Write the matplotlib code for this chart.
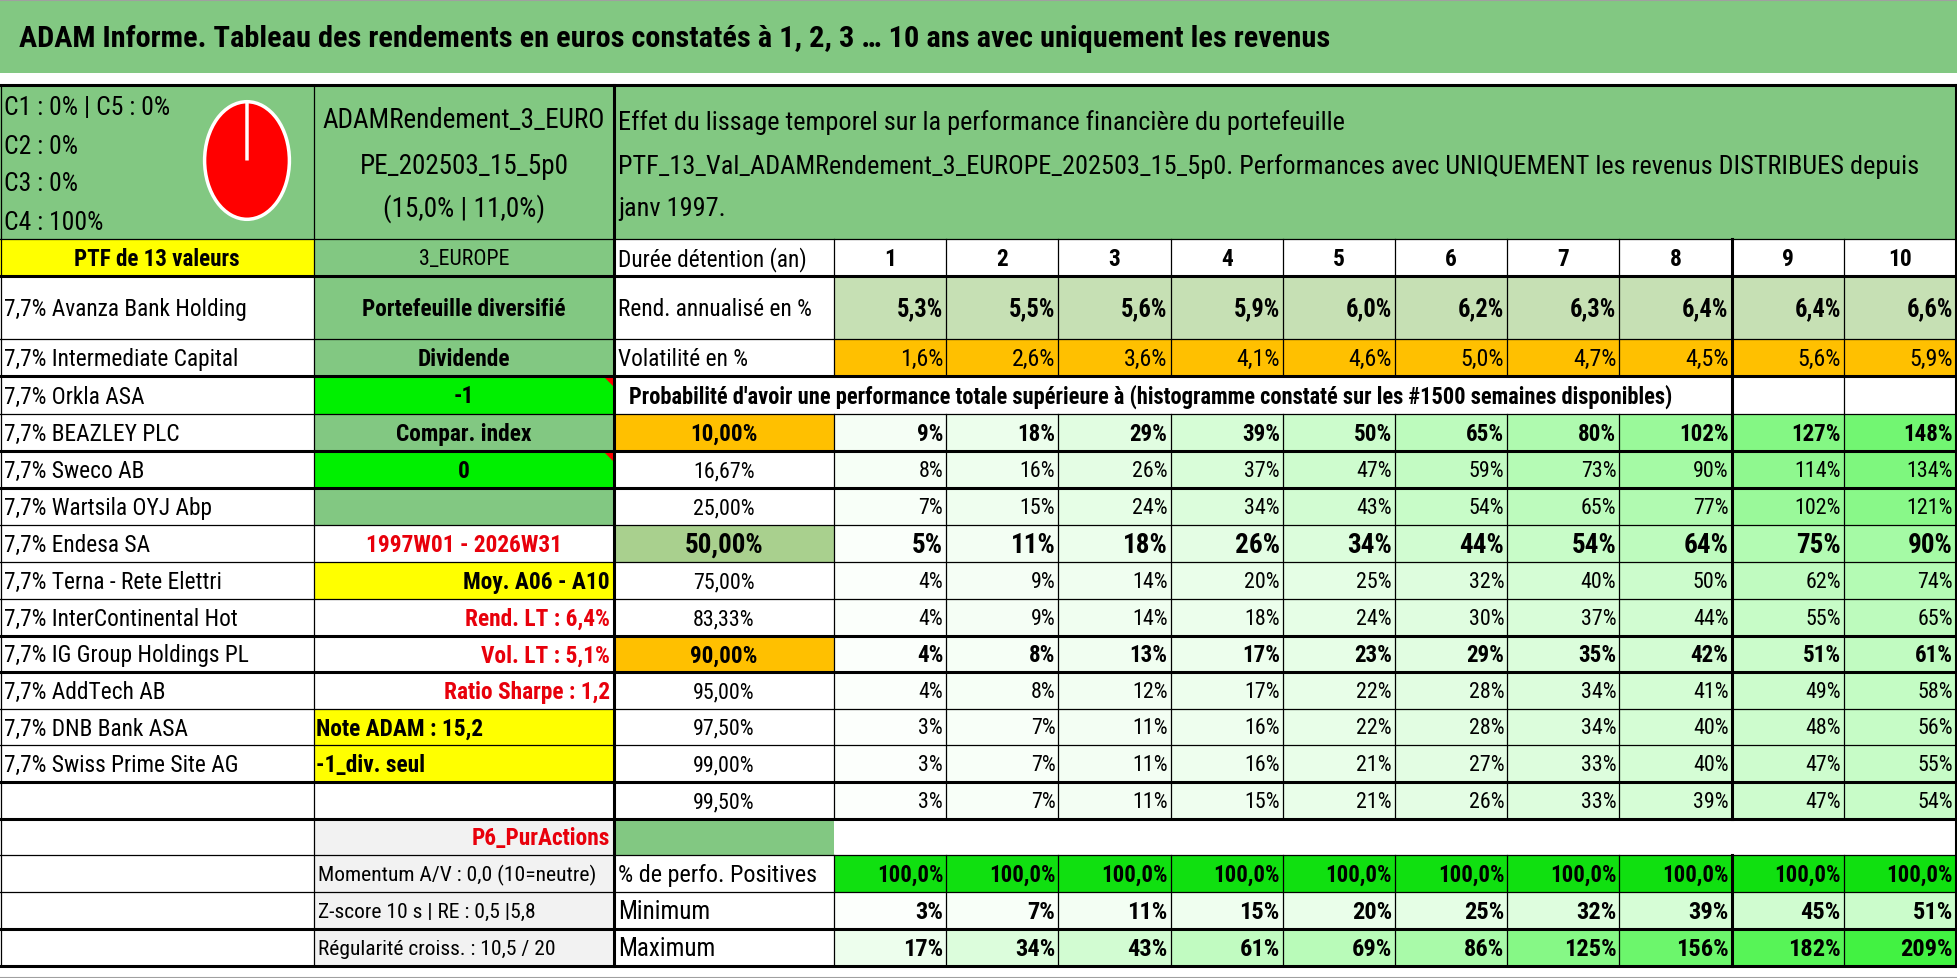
import matplotlib
matplotlib.use("Agg")
import matplotlib.pyplot as plt
from matplotlib.patches import Rectangle, Polygon
from matplotlib import font_manager as fm

# ---------------- data ----------------
title = "ADAM Informe. Tableau des rendements en euros constatés à 1, 2, 3 … 10 ans avec uniquement les revenus"
pie_labels = ["C1", "C2", "C3", "C4", "C5"]
pie_values = [0, 0, 0, 100, 0]
pie_text = ["C1 : 0% | C5 : 0%", "C2 : 0%", "C3 : 0%", "C4 : 100%"]
header_b = ["ADAMRendement_3_EURO", "PE_202503_15_5p0", "(15,0% | 11,0%)"]
header_c = ["Effet du lissage temporel sur la performance financière du portefeuille",
            "PTF_13_Val_ADAMRendement_3_EUROPE_202503_15_5p0. Performances avec UNIQUEMENT les revenus DISTRIBUES depuis",
            "janv 1997."]
stocks = ["7,7% Avanza Bank Holding", "7,7% Intermediate Capital", "7,7% Orkla ASA", "7,7% BEAZLEY PLC",
          "7,7% Sweco AB", "7,7% Wartsila OYJ Abp", "7,7% Endesa SA", "7,7% Terna - Rete Elettri",
          "7,7% InterContinental Hot", "7,7% IG Group Holdings PL", "7,7% AddTech AB", "7,7% DNB Bank ASA",
          "7,7% Swiss Prime Site AG"]
years = [1, 2, 3, 4, 5, 6, 7, 8, 9, 10]
rend = [5.3, 5.5, 5.6, 5.9, 6.0, 6.2, 6.3, 6.4, 6.4, 6.6]
vol = [1.6, 2.6, 3.6, 4.1, 4.6, 5.0, 4.7, 4.5, 5.6, 5.9]
pct_labels = ["10,00%", "16,67%", "25,00%", "50,00%", "75,00%", "83,33%", "90,00%", "95,00%", "97,50%", "99,00%", "99,50%"]
pct_table = [
    [9, 18, 29, 39, 50, 65, 80, 102, 127, 148],
    [8, 16, 26, 37, 47, 59, 73, 90, 114, 134],
    [7, 15, 24, 34, 43, 54, 65, 77, 102, 121],
    [5, 11, 18, 26, 34, 44, 54, 64, 75, 90],
    [4, 9, 14, 20, 25, 32, 40, 50, 62, 74],
    [4, 9, 14, 18, 24, 30, 37, 44, 55, 65],
    [4, 8, 13, 17, 23, 29, 35, 42, 51, 61],
    [4, 8, 12, 17, 22, 28, 34, 41, 49, 58],
    [3, 7, 11, 16, 22, 28, 34, 40, 48, 56],
    [3, 7, 11, 16, 21, 27, 33, 40, 47, 55],
    [3, 7, 11, 15, 21, 26, 33, 39, 47, 54],
]
positives = [100.0] * 10
minimum = [3, 7, 11, 15, 20, 25, 32, 39, 45, 51]
maximum = [17, 34, 43, 61, 69, 86, 125, 156, 182, 209]
colB = ["3_EUROPE", "Portefeuille diversifié", "Dividende", "-1", "Compar. index", "0", "",
        "1997W01 - 2026W31", "Moy. A06 - A10", "Rend. LT : 6,4%", "Vol. LT : 5,1%", "Ratio Sharpe : 1,2",
        "Note ADAM : 15,2", "-1_div. seul", "", "P6_PurActions",
        "Momentum A/V : 0,0 (10=neutre)", "Z-score 10 s | RE : 0,5 |5,8", "Régularité croiss. : 10,5 / 20"]
prob_text = "Probabilité d'avoir une performance totale supérieure à (histogramme constaté sur les #1500 semaines disponibles)"

# ---------------- fonts ----------------
names = {f.name for f in fm.fontManager.ttflist}
FONT = None
STRETCH = "normal"
for cand in ["Liberation Sans Narrow", "Roboto Condensed", "Open Sans Condensed", "Carlito"]:
    if cand in names:
        FONT = cand
        break
if FONT is None:
    if any(f.name == "DejaVu Sans" and f.stretch == "condensed" for f in fm.fontManager.ttflist):
        FONT, STRETCH = "DejaVu Sans", "condensed"
    else:
        FONT = "Liberation Sans"
plt.rcParams["font.family"] = [FONT, "DejaVu Sans"]
plt.rcParams["font.stretch"] = STRETCH

# ---------------- layout ----------------
W, H = 1958, 979
fig = plt.figure(figsize=(W / 100, H / 100), dpi=100)
ax = fig.add_axes([0, 0, 1, 1])
ax.set_xlim(0, W)
ax.set_ylim(H, 0)
ax.axis("off")
renderer = fig.canvas.get_renderer()


def fit(s, target, bold=False, base=20.0, k=1.0):
    t = ax.text(0, 0, s, fontsize=base, fontweight="bold" if bold else "normal")
    w = t.get_window_extent(renderer).width
    t.remove()
    return base * target / w * k


BUMP = 1.06  # short cell texts a little taller (reference font is narrower)
FS = 0.5 * (fit("7,7% IG Group Holdings PL", 212, k=BUMP) + fit("Durée détention (an)", 192, k=BUMP))
FS_C = FS
FS_TITLE = fit("ADAM Informe. Tableau des rendements en euros co", 641, bold=True)
FS_HB = fit(header_b[0], 283)
FS_HC = fit(header_c[1], 1297)
FS_PROB = fit(prob_text, 1047, bold=True)
FS_B = fit("Portefeuille diversifié", 191, bold=True, k=BUMP)
FS_PTF = fit("PTF de 13 valeurs", 156, bold=True, k=BUMP)
FS_PIE = fit(pie_text[0], 156, k=BUMP)
FS_REND = fit("5,3%", 44, bold=True, k=BUMP)
FS_VOL = fit("1,6%", 41, k=BUMP)
FS_PCT = fit("16,67%", 58, k=BUMP)
FS_PCTB = fit("10,00%", 63, bold=True, k=BUMP)
FS_BIG = fit("50,00%", 74.5, bold=True, k=BUMP)
FS_POS = fit("100,0%", 64, bold=True, k=1.03)
FS_MM = fit("17%", 38, bold=True, k=BUMP)
FS_MMLAB = fit("Minimum", 87, k=BUMP)
FS_POSLAB = fit("% de perfo. Positives", 188, k=BUMP)
FS_MOM = fit(colB[16], 272, k=1.02)

yr_w = (1956 - 834) / 10
X = [0, 314, 614, 834] + [834 + yr_w * (i + 1) for i in range(10)]
Y = [86, 240, 277, 340, 377, 415, 452, 489, 526, 563, 600, 637, 673, 710, 746, 783, 820, 856, 893, 930, 967]

GREEN = "#82C882"
YEL = "#FFFF00"
ORANGE = "#FFC000"
LGREEN = "#C6E0B4"
MGREEN = "#A9D08E"
BRIGHT = "#00F000"
POS = "#10E010"
GRAY = "#F2F2F2"
RED = "#E8000B"


def scale_color(v):
    d = 1.07 * v - 0.0008 * v * v
    r = max(0, 255 - d) / 255
    g = (255 - 0.06 * v) / 255
    return (r, g, r)


def cell(c0, c1, r, color):
    ax.add_patch(Rectangle((X[c0], Y[r]), X[c1] - X[c0], Y[r + 1] - Y[r], facecolor=color,
                           edgecolor="none", zorder=1))


def txt(c0, c1, r, s, ha="center", color="black", bold=False, fs=None, dy=1, pad=4):
    if fs is None:
        fs = FS
    if ha == "center":
        x = (X[c0] + X[c1]) / 2
    elif ha == "left":
        x = X[c0] + pad
    else:
        x = X[c1] - pad
    y = (Y[r] + Y[r + 1]) / 2 + dy
    ax.text(x, y, s, ha=ha, va="center", color=color, fontsize=fs,
            fontweight="bold" if bold else "normal", zorder=5)


# frame & title band
ax.add_patch(Rectangle((0, 0), W, H, facecolor="white", edgecolor="none", zorder=0))
ax.add_patch(Rectangle((0, 2), W, 72, facecolor=GREEN, edgecolor="none", zorder=1))
ax.text(19, 39, title, ha="left", va="center", fontsize=FS_TITLE, fontweight="bold", zorder=5)
ax.plot([0, W], [0.5, 0.5], color="#A0A0A0", lw=1.5, zorder=6)
ax.plot([0, W], [978.5, 978.5], color="#A0A0A0", lw=1.5, zorder=6)

# header row
cell(0, 1, 0, GREEN)
cell(1, 2, 0, GREEN)
cell(2, 13, 0, GREEN)
for lab, yy in zip(pie_text, [108, 147, 184, 223]):
    ax.text(4, yy, lab, ha="left", va="center", fontsize=FS_PIE, zorder=5)
for s, yy in zip(header_b, [121, 166, 209]):
    ax.text((X[1] + X[2]) / 2, yy, s, ha="center", va="center", fontsize=FS_HB, zorder=5)
for s, yy in zip(header_c, [123, 167, 209]):
    ax.text(X[2] + 4, yy, s, ha="left", va="center", fontsize=FS_HC, zorder=5)

# pie
pax = fig.add_axes([194 / W, 1 - 235 / H, 106 / W, 147 / H])
pax.pie(pie_values, colors=["#FF0000"] * 5, startangle=90, counterclock=False,
        wedgeprops=dict(edgecolor="white", linewidth=2.5))
pax.set_aspect("auto")
pax.axis("off")

# row 1: durée
cell(0, 1, 1, YEL)
cell(1, 2, 1, GREEN)
txt(0, 1, 1, "PTF de 13 valeurs", bold=True, fs=FS_PTF)
txt(2, 3, 1, "Durée détention (an)", ha="left", fs=FS_C)
for i, yv in enumerate(years):
    txt(3 + i, 4 + i, 1, str(yv), bold=True, fs=FS_B)

# column A stocks
for i, s in enumerate(stocks):
    txt(0, 1, 2 + i, s, ha="left")

# column B
b_bg = {0: GREEN, 1: GREEN, 2: GREEN, 3: BRIGHT, 4: GREEN, 5: BRIGHT, 6: GREEN, 8: YEL,
        12: YEL, 13: YEL, 15: GRAY, 16: GRAY, 17: GRAY, 18: GRAY}
for k, s in enumerate(colB):
    r = 1 + k
    if k in b_bg:
        cell(1, 2, r, b_bg[k])
    if k == 0:
        txt(1, 2, r, s, fs=FS_PTF * 0.95)
    elif k in (1, 2, 3, 4, 5):
        txt(1, 2, r, s, bold=True, fs=FS_B)
    elif k == 7:
        txt(1, 2, r, s, bold=True, color=RED, fs=FS_B)
    elif k == 8:
        txt(1, 2, r, s, bold=True, ha="right", fs=FS_B)
    elif k in (9, 10, 11, 15):
        txt(1, 2, r, s, bold=True, ha="right", color=RED, fs=FS_B)
    elif k in (12, 13):
        txt(1, 2, r, s, bold=True, ha="left", fs=FS_B, pad=2)
    elif k in (16, 17, 18):
        txt(1, 2, r, s, ha="left", fs=FS_MOM, pad=4)
for r in (4, 6):
    ax.add_patch(Polygon([[X[2] - 11, Y[r]], [X[2], Y[r]], [X[2], Y[r] + 11]], closed=True,
                         facecolor="#FF0000", edgecolor="none", zorder=3))

# rend / vol
txt(2, 3, 2, "Rend. annualisé en %", ha="left", fs=FS_C)
txt(2, 3, 3, "Volatilité en %", ha="left", fs=FS_C)
for i in range(10):
    cell(3 + i, 4 + i, 2, LGREEN)
    txt(3 + i, 4 + i, 2, f"{rend[i]:.1f}%".replace(".", ","), ha="right", bold=True, fs=FS_REND, pad=3)
    cell(3 + i, 4 + i, 3, ORANGE)
    txt(3 + i, 4 + i, 3, f"{vol[i]:.1f}%".replace(".", ","), ha="right", fs=FS_VOL, pad=3)

# probability title row
txt(2, 11, 4, prob_text, ha="left", bold=True, fs=FS_PROB, pad=15)

# percentile table
for j, lab in enumerate(pct_labels):
    r = 5 + j
    bold = lab in ("10,00%", "50,00%", "90,00%")
    big = lab == "50,00%"
    fs = FS_BIG if big else (FS_PCTB if bold else FS_PCT)
    if lab in ("10,00%", "90,00%"):
        cell(2, 3, r, ORANGE)
    if big:
        cell(2, 3, r, MGREEN)
    txt(2, 3, r, lab, bold=bold, fs=fs)
    for i in range(10):
        v = pct_table[j][i]
        cell(3 + i, 4 + i, r, scale_color(v))
        txt(3 + i, 4 + i, r, f"{v}%", ha="right", bold=bold, fs=fs, pad=3)

# P6 row
cell(2, 3, 16, GREEN)

# bottom stats
txt(2, 3, 17, "% de perfo. Positives", ha="left", fs=FS_POSLAB)
txt(2, 3, 18, "Minimum", ha="left", fs=FS_MMLAB)
txt(2, 3, 19, "Maximum", ha="left", fs=FS_MMLAB)
for i in range(10):
    cell(3 + i, 4 + i, 17, POS)
    txt(3 + i, 4 + i, 17, f"{positives[i]:.1f}%".replace(".", ","), ha="right", bold=True, fs=FS_POS, pad=3)
    cell(3 + i, 4 + i, 18, scale_color(minimum[i]))
    txt(3 + i, 4 + i, 18, f"{minimum[i]}%", ha="right", bold=True, fs=FS_MM, pad=3)
    cell(3 + i, 4 + i, 19, scale_color(maximum[i]))
    txt(3 + i, 4 + i, 19, f"{maximum[i]}%", ha="right", bold=True, fs=FS_MM, pad=3)

# ---------------- borders ----------------
THIN, THICK = 0.9, 2.2
thick_rows = {86, 277, 377, 452, 489, 637, 673, 783, 820, 930, 967}


def hline(y, x0, x1, lw):
    ax.plot([x0, x1], [y, y], color="black", lw=lw, zorder=4, solid_capstyle="projecting")


def vline(x, y0, y1, lw):
    ax.plot([x, x], [y0, y1], color="black", lw=lw, zorder=4, solid_capstyle="projecting")


for y in Y:
    lw = THICK if y in thick_rows else THIN
    hline(y, X[0], X[-1], lw)

vline(X[0] + 1, Y[0], Y[-1], THIN)
vline(X[1], Y[0], Y[-1], THIN)
vline(X[2], Y[0], Y[-1], THICK)
vline(X[-1], Y[0], Y[-1], THICK)
for ci in range(3, 13):
    lw = THICK if ci == 11 else THIN
    vline(X[ci], Y[1], Y[4], lw)
    if ci >= 11:
        vline(X[ci], Y[4], Y[5], lw)
    vline(X[ci], Y[5], Y[16], lw)
    vline(X[ci], Y[17], Y[20], lw)

fig.savefig("out.png", dpi=100)
